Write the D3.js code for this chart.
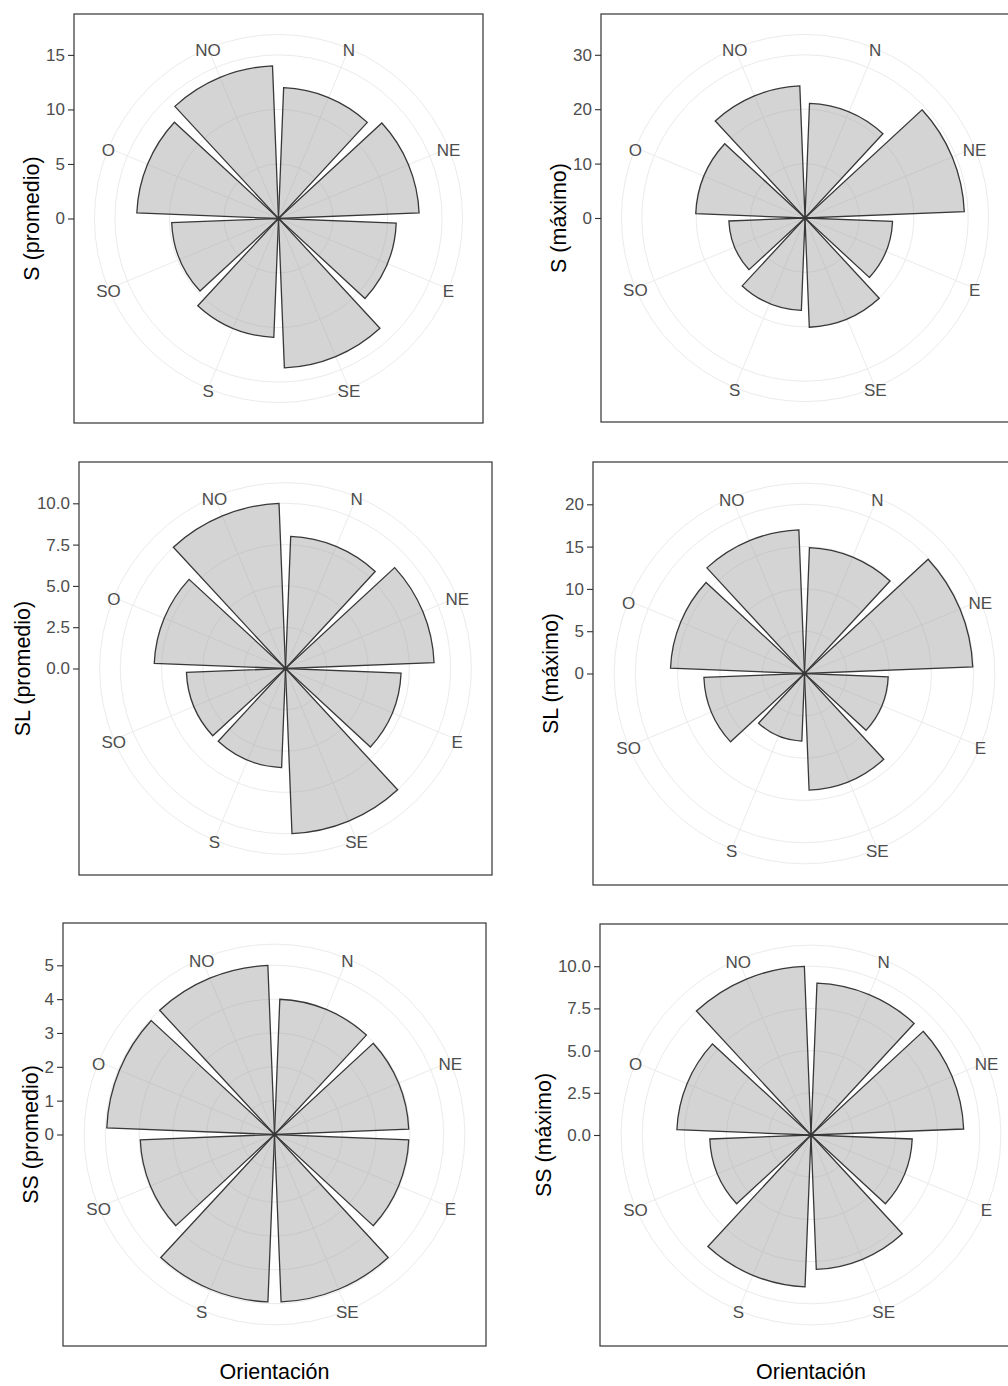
<!DOCTYPE html>
<html>
<head>
<meta charset="utf-8">
<script src="https://cdn.jsdelivr.net/npm/d3@7"></script>
<style>
	body { margin: 0; background: #fff; }
	svg { display: block; font-family: 'Liberation Sans', Arial, sans-serif; }
	.grid { fill: none; stroke: #ebebeb; stroke-width: 1; }
	.bar { fill: rgba(160, 160, 160, 0.45); stroke: #383838; stroke-width: 1.3; stroke-linejoin: miter; }
	.dirLabel { fill: #4d4d4d; font-size: 17px; }
	.axis text { fill: #4d4d4d; font-size: 17px; font-family: 'Liberation Sans', Arial, sans-serif; }
	.axis line { stroke: #333; stroke-width: 1.1; }
	.border { fill: none; stroke: #333; stroke-width: 1.2; }
	.axisTitle { fill: #000; font-size: 21.5px; }
</style>
</head>
<body>
<svg id="chart" width="1008" height="1386"></svg>
<script>
const directions = ['N', 'NE', 'E', 'SE', 'S', 'SO', 'O', 'NO'];

// values per direction, same order as directions
const sPromedio = [12.0, 12.9, 10.8, 13.7, 10.9, 9.8, 13.0, 14.0];
const sMaximo = [21.1, 29.3, 16.1, 20.1, 17.0, 14.0, 20.1, 24.3];
const slPromedio = [8.0, 9.0, 7.0, 10.0, 6.0, 6.0, 7.95, 10.0];
const slMaximo = [14.9, 19.9, 9.9, 13.8, 8.0, 11.9, 15.85, 17.0];
const ssPromedio = [4.0, 3.97, 3.97, 4.95, 4.95, 3.97, 4.96, 5.0];
const ssMaximo = [9.0, 9.05, 6.0, 7.97, 9.0, 6.0, 7.95, 10.0];

// radial axis breaks (last one is the top of the scale)
const sPromedioTicks = [0, 5, 10, 15];
const sMaximoTicks = [0, 10, 20, 30];
const slPromedioTicks = [0, 2.5, 5, 7.5, 10];
const slMaximoTicks = [0, 5, 10, 15, 20];
const ssPromedioTicks = [0, 1, 2, 3, 4, 5];
const ssMaximoTicks = [0, 2.5, 5, 7.5, 10];

const xTitle = 'Orientación';

const panels = [
	{values: sPromedio, ticks: sPromedioTicks, title: 'S (promedio)', fmt: d3.format('d'), x: 74, y: 14, size: 409, xAxis: false},
	{values: sMaximo, ticks: sMaximoTicks, title: 'S (máximo)', fmt: d3.format('d'), x: 601, y: 14, size: 408, xAxis: false},
	{values: slPromedio, ticks: slPromedioTicks, title: 'SL (promedio)', fmt: d3.format('.1f'), x: 79, y: 462, size: 413, xAxis: false},
	{values: slMaximo, ticks: slMaximoTicks, title: 'SL (máximo)', fmt: d3.format('d'), x: 593, y: 462, size: 423, xAxis: false},
	{values: ssPromedio, ticks: ssPromedioTicks, title: 'SS (promedio)', fmt: d3.format('d'), x: 63, y: 923, size: 423, xAxis: true},
	{values: ssMaximo, ticks: ssMaximoTicks, title: 'SS (máximo)', fmt: d3.format('.1f'), x: 600, y: 924, size: 422, xAxis: true}
];

const svg = d3.select('#chart');

function drawRose(p) {
	let cx = p.x + p.size / 2;
	let cy = p.y + p.size / 2;
	let rMax = d3.max(p.ticks);
	let outer = p.size * 0.45;
	let r = d3.scaleLinear().domain([0, rMax]).range([0, p.size * 0.4]);
	let theta = d3.scaleBand().domain(directions).range([0, 2 * Math.PI])
		.paddingInner(0.1).paddingOuter(0.05);
	let mid = (d) => theta(d) + theta.bandwidth() / 2;

	let g = svg.append('g').attr('transform', 'translate(' + cx + ',' + cy + ')');

	// grid: circles at the breaks plus the outer ring
	g.selectAll('circle.grid')
		.data(p.ticks.filter((t) => t > 0).map(r).concat([outer]))
		.enter().append('circle')
		.attr('class', 'grid')
		.attr('r', (d) => d);
	g.selectAll('line.grid')
		.data(directions)
		.enter().append('line')
		.attr('class', 'grid')
		.attr('x2', (d) => outer * Math.sin(mid(d)))
		.attr('y2', (d) => -outer * Math.cos(mid(d)));

	let arc = d3.arc()
		.innerRadius(0)
		.outerRadius((d) => r(d.value))
		.startAngle((d) => theta(d.dir))
		.endAngle((d) => theta(d.dir) + theta.bandwidth());

	g.selectAll('path.bar')
		.data(directions.map((d, i) => ({dir: d, value: p.values[i]})))
		.enter().append('path')
		.attr('class', 'bar')
		.attr('d', arc);

	g.selectAll('text.dirLabel')
		.data(directions)
		.enter().append('text')
		.attr('class', 'dirLabel')
		.attr('text-anchor', 'middle')
		.attr('dominant-baseline', 'central')
		.attr('x', (d) => outer * Math.sin(mid(d)))
		.attr('y', (d) => -outer * Math.cos(mid(d)) + 2.5)
		.text((d) => d);

	// radial axis on the left edge of the panel
	let y = d3.scaleLinear().domain([0, rMax]).range([cy, cy - p.size * 0.4]);
	let axis = svg.append('g')
		.attr('class', 'axis')
		.attr('transform', 'translate(' + p.x + ',0)')
		.call(d3.axisLeft(y).tickValues(p.ticks).tickFormat(p.fmt).tickSize(6).tickPadding(3));
	axis.attr('font-size', null).attr('font-family', null);
	axis.select('.domain').remove();

	let maxW = d3.max(axis.selectAll('text').nodes(), (n) => n.getComputedTextLength());
	let titleX = p.x - 9 - maxW - 14;
	svg.append('text')
		.attr('class', 'axisTitle')
		.attr('text-anchor', 'middle')
		.attr('dominant-baseline', 'central')
		.attr('transform', 'translate(' + titleX + ',' + cy + ') rotate(-90)')
		.text(p.title);

	if (p.xAxis) {
		svg.append('text')
			.attr('class', 'axisTitle')
			.attr('text-anchor', 'middle')
			.attr('x', cx)
			.attr('y', p.y + p.size + 33)
			.text(xTitle);
	}

	svg.append('rect')
		.attr('class', 'border')
		.attr('x', p.x)
		.attr('y', p.y)
		.attr('width', p.size)
		.attr('height', p.size);
}

panels.forEach(drawRose);
</script>
</body>
</html>
